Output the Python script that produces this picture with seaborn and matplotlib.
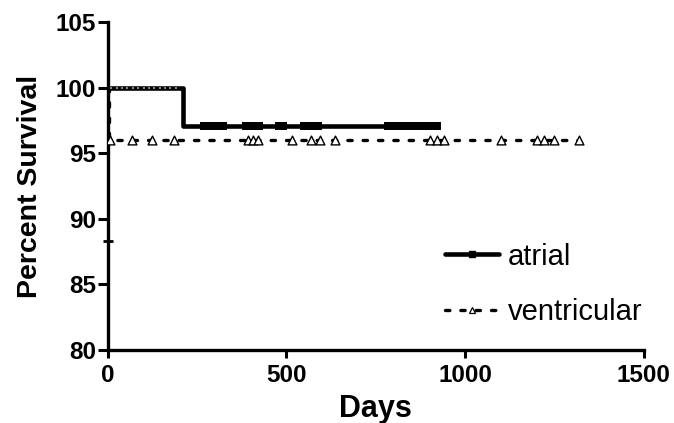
import matplotlib
matplotlib.use("Agg")
import matplotlib.pyplot as plt
from matplotlib.lines import Line2D
import seaborn as sns
import pandas as pd

# ---- data ----
atrial_days = [0, 210, 924]
atrial_surv = [100, 97.1, 97.1]
atrial_cens_days_100 = [10, 25, 40, 55, 70, 85, 100, 115, 130, 145, 160, 175, 190]
atrial_cens_days = [268, 282, 296, 310, 322, 388, 400, 412, 422, 480, 490,
                    550, 562, 575, 588, 785, 798, 811, 824, 837, 850, 863, 876, 889, 902, 915, 922]
atrial_cens_surv = 97.1

vent_days = [0, 2, 1320]
vent_surv = [100, 96, 96]
vent_cens_days = [6, 67, 123, 185, 392, 406, 420, 515, 568, 593, 635,
                  901, 921, 940, 1100, 1200, 1220, 1248, 1318]
vent_cens_surv = 96

extra_mark_day = [0]
extra_mark_surv = [88.3]

x_ticks = [0, 500, 1000, 1500]
y_ticks = [80, 85, 90, 95, 100, 105]
labels = ["atrial", "ventricular"]

sns.set_style("white")
plt.rcParams["font.family"] = ["Liberation Sans", "DejaVu Sans"]
plt.rcParams.update({"text.color": "black", "axes.labelcolor": "black",
                     "xtick.color": "black", "ytick.color": "black"})

fig = plt.figure(figsize=(6.74, 4.23), dpi=100)
ax = fig.add_axes([0.160, 0.1726, 0.795, 0.7754])

df_a = pd.DataFrame({"Days": atrial_days, "Surv": atrial_surv})
df_v = pd.DataFrame({"Days": vent_days, "Surv": vent_surv})

sns.lineplot(data=df_a, x="Days", y="Surv", drawstyle="steps-post", estimator=None,
             color="black", lw=3.3, ax=ax, zorder=3)
sns.lineplot(data=df_v, x="Days", y="Surv", drawstyle="steps-post", estimator=None,
             color="black", lw=2.4, ax=ax, zorder=2)
ax.lines[-1].set_dashes([1.3, 3.3])
ax.lines[-1].set_dash_capstyle("round")

sns.scatterplot(x=atrial_cens_days, y=[atrial_cens_surv] * len(atrial_cens_days),
                marker="s", s=38, color="black", edgecolor="black", linewidth=0,
                ax=ax, zorder=4)
sns.scatterplot(x=atrial_cens_days_100, y=[100] * len(atrial_cens_days_100),
                marker="s", s=3, color="#888888", linewidth=0, ax=ax, zorder=5)
sns.scatterplot(x=vent_cens_days, y=[vent_cens_surv] * len(vent_cens_days),
                marker="^", s=40, facecolor="white", edgecolor="black", linewidth=1.0,
                ax=ax, zorder=4)
sns.scatterplot(x=extra_mark_day, y=extra_mark_surv, marker="_", s=60,
                color="black", linewidth=2, ax=ax, zorder=6, clip_on=False)

ax.set_xlim(0, 1500)
ax.set_ylim(80, 105)
ax.set_xticks(x_ticks)
ax.set_yticks(y_ticks)
ax.tick_params(axis="y", direction="out", length=7, width=2.2,
               labelsize=17.5, pad=1.5, color="black", labelcolor="black", left=True)
ax.tick_params(axis="x", direction="out", length=6, width=2.2,
               labelsize=17.5, pad=4, color="black", labelcolor="black", bottom=True)
for lab in ax.get_xticklabels() + ax.get_yticklabels():
    lab.set_fontweight("bold")
for side in ["top", "right"]:
    ax.spines[side].set_visible(False)
for side in ["left", "bottom"]:
    ax.spines[side].set_linewidth(2.4)
    ax.spines[side].set_color("black")

ax.set_xlabel("Days", fontsize=22, fontweight="bold", labelpad=5, color="black")
ax.set_ylabel("Percent Survival", fontsize=20.5, fontweight="bold", labelpad=9, color="black")

h1 = Line2D([], [], color="black", lw=3.3, marker="s", markersize=4)
h2 = Line2D([], [], color="black", lw=2.4, dashes=[1.3, 3.3], dash_capstyle="round",
            marker="^", markersize=5,
            markerfacecolor="white", markeredgecolor="black", markeredgewidth=0.9)
leg = ax.legend([h1, h2], labels, loc="center left", bbox_to_anchor=(0.607, 0.2),
                frameon=False, fontsize=21, handlelength=1.85, labelspacing=0.95,
                handletextpad=0.3, borderaxespad=0)
for t in leg.get_texts():
    t.set_color("black")

fig.savefig("out.png", dpi=100)
